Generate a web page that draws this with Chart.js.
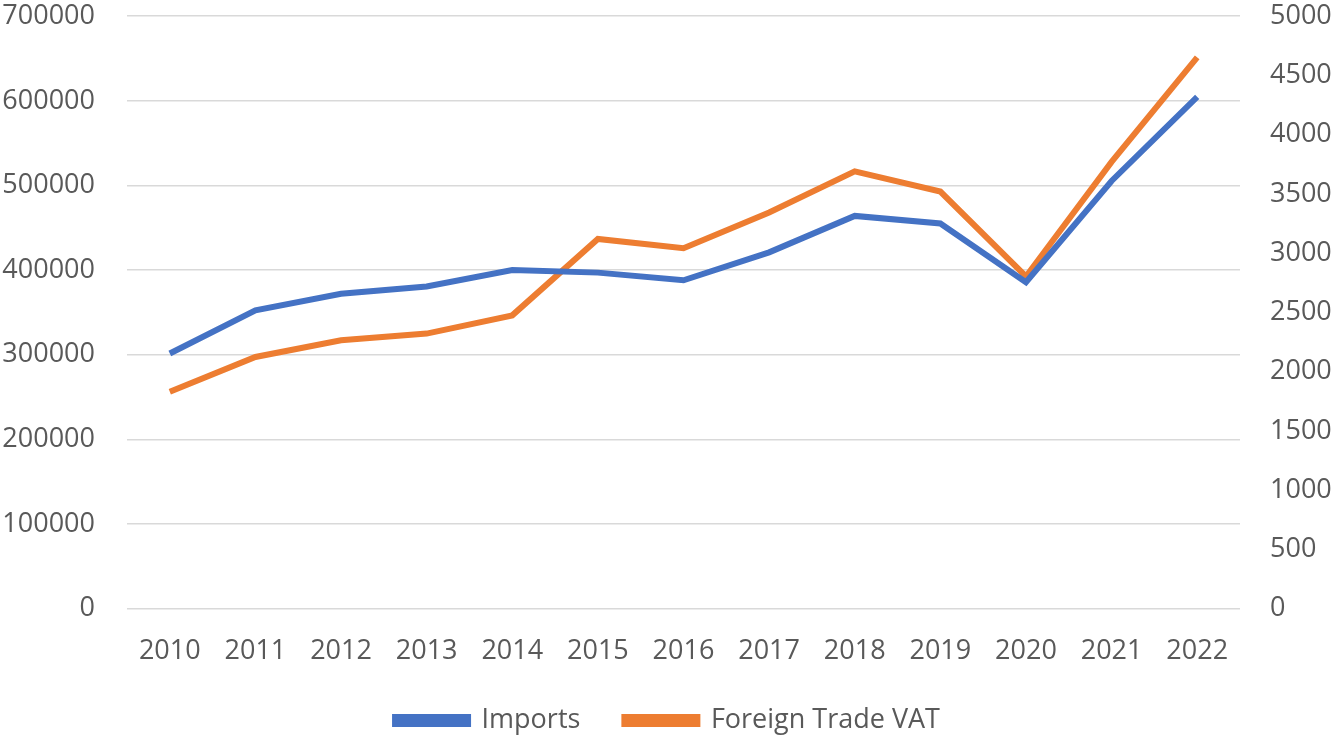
<!DOCTYPE html>
<html>
<head>
<meta charset="utf-8">
<script src="https://cdn.jsdelivr.net/npm/chart.js@4"></script>
<style>
  html, body { margin: 0; padding: 0; background: #fff; }
  #wrap { width: 1335px; height: 735px; }
</style>
</head>
<body>
<div id="wrap"><canvas id="myChart" width="1335" height="735"></canvas></div>
<script>
const years = ["2010", "2011", "2012", "2013", "2014", "2015", "2016", "2017", "2018", "2019", "2020", "2021", "2022"];
const imports = [301400, 352400, 372000, 380600, 400000, 397000, 388000, 421000, 464000, 455000, 385700, 505300, 604700];
const foreignTradeVat = [1830, 2124, 2265, 2321, 2475, 3120, 3041, 3343, 3690, 3520, 2803, 3770, 4652];

const grey = "#595959";
const font = { family: "'Open Sans', sans-serif", size: 27 };

// legend padding also spaces the items apart; trim the extra height it adds
// and stretch the legend box upward so the text lands where the original one does
const legendTrim = {
  id: "legendTrim",
  afterInit(chart) {
    const legend = chart.legend;
    const fit = legend.fit;
    legend.fit = function () {
      fit.call(this);
      this.height -= 41;
    };
  },
  afterLayout(chart) {
    chart.legend.top -= 32;
    chart.legend.height += 32;
  },
};

const data = {
  type: "line",
  data: {
    labels: years,
    datasets: [
      {
        label: "Imports",
        data: imports,
        borderColor: "#4472C4",
        backgroundColor: "#4472C4",
        borderWidth: 6,
        pointRadius: 0,
        yAxisID: "y",
      },
      {
        label: "Foreign Trade VAT",
        data: foreignTradeVat,
        borderColor: "#ED7D31",
        backgroundColor: "#ED7D31",
        borderWidth: 6,
        pointRadius: 0,
        yAxisID: "y1",
      },
    ],
  },
  options: {
    responsive: false,
    animation: false,
    layout: { padding: { top: -1, bottom: 0 } },
    plugins: {
      legend: {
        position: "bottom",
        labels: {
          color: grey,
          font: font,
          boxWidth: 73,
          boxHeight: 7,
          padding: 44,
        },
      },
      tooltip: { enabled: false },
    },
    scales: {
      x: {
        offset: true,
        grid: { display: false, drawTicks: false },
        border: { display: false },
        ticks: { color: grey, font: font, padding: 27, maxRotation: 0 },
      },
      y: {
        position: "left",
        min: 0,
        max: 700000,
        ticks: {
          stepSize: 100000,
          color: grey,
          font: font,
          padding: 0,
          callback: function (v) { return String(v); },
        },
        grid: { color: "#d9d9d9", lineWidth: 1.5, drawTicks: true, tickLength: 32, tickColor: "rgba(0,0,0,0)" },
        border: { display: false },
        afterFit: function (scale) { scale.width = 127; },
      },
      y1: {
        position: "right",
        min: 0,
        max: 5000,
        ticks: {
          stepSize: 500,
          color: grey,
          font: font,
          padding: 0,
          callback: function (v) { return String(v); },
        },
        grid: { display: false, drawTicks: true, tickLength: 30 },
        border: { display: false },
        afterFit: function (scale) { scale.width = 95; },
      },
    },
  },
  plugins: [legendTrim],
};

new Chart(document.getElementById("myChart"), data);
</script>
</body>
</html>
